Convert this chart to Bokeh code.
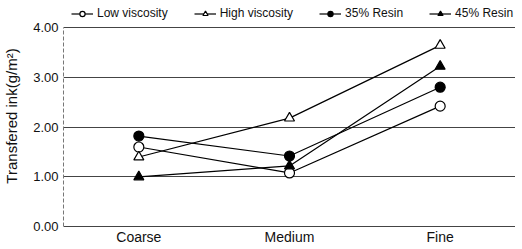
from bokeh.plotting import figure
from bokeh.models import Range1d, FactorRange, Legend, LegendItem, FixedTicker, CustomJSTickFormatter
from bokeh.embed import file_html
from bokeh.resources import INLINE

categories = ["Coarse", "Medium", "Fine"]
low_visc = [1.60, 1.08, 2.42]
high_visc = [1.40, 2.18, 3.64]
resin35 = [1.82, 1.42, 2.80]
resin45 = [1.00, 1.22, 3.22]
y_ticks = [0, 1, 2, 3, 4]

FONT = "Liberation Sans"
FH = 223

p = figure(x_range=FactorRange(*categories), y_range=Range1d(-0.015, 4.46),
           frame_width=452, frame_height=FH, output_backend="svg", toolbar_location=None,
           min_border_left=0, min_border_right=0, min_border_top=4, min_border_bottom=0)
p.outline_line_color = None
p.xgrid.grid_line_color = None
p.ygrid.grid_line_color = "#444444"
p.ygrid.grid_line_width = 1
p.yaxis.ticker = FixedTicker(ticks=y_ticks)
p.yaxis.bounds = (0, 4)
p.yaxis.formatter = CustomJSTickFormatter(code="return tick.toFixed(2);")

for ax in (p.xaxis, p.yaxis):
    ax.major_tick_line_color = None
    ax.minor_tick_line_color = None
    ax.major_tick_out = 0
    ax.major_tick_in = 0
    ax.minor_tick_out = 0
    ax.major_label_text_font = FONT
    ax.major_label_text_color = "#111111"
p.xaxis.axis_line_color = None
p.xaxis.major_label_text_font_size = "14px"
p.xaxis.major_label_standoff = 1
p.yaxis.major_label_text_font_size = "13px"
p.yaxis.major_label_standoff = 5
p.yaxis.axis_line_color = "#777777"
p.yaxis.axis_line_dash = "4 2"
p.yaxis.axis_label = "Transfered ink(g/m²)"
p.yaxis.axis_label_text_font = FONT
p.yaxis.axis_label_text_font_size = "15px"
p.yaxis.axis_label_text_font_style = "normal"
p.yaxis.axis_label_text_color = "#111111"
p.yaxis.axis_label_standoff = 10

series = [
    ("Low viscosity", low_visc, "circle", "white"),
    ("High viscosity", high_visc, "triangle", "white"),
    ("35% Resin", resin35, "circle", "black"),
    ("45% Resin", resin45, "triangle", "black"),
]
items = []
for name, vals, marker, fill in series:
    l = p.line(categories, vals, line_color="black", line_width=1.2)
    s = p.scatter(categories, vals, marker=marker, size=10, fill_color=fill,
                  line_color="black", line_width=1.2)
    items.append(LegendItem(label=name, renderers=[l, s]))

legend = Legend(items=items, orientation="horizontal", location=(8, FH - 16),
                label_text_font=FONT, label_text_font_size="12px",
                label_text_color="#111111", glyph_width=22, glyph_height=13,
                label_standoff=4, spacing=26, padding=0, margin=0,
                border_line_color=None, background_fill_alpha=0)
p.add_layout(legend, "center")

open("out.html", "w").write(file_html(p, INLINE))
